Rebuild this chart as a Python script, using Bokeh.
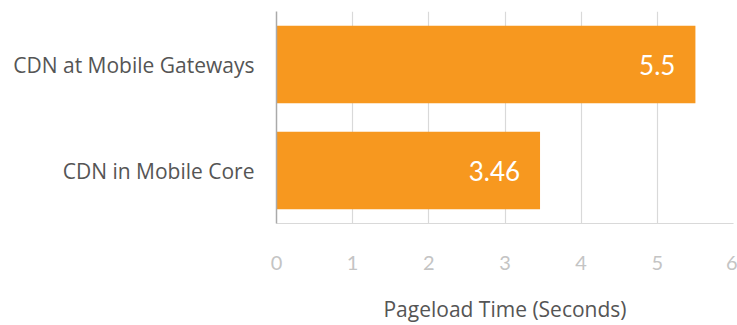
from bokeh.plotting import figure
from bokeh.models import FactorRange, Range1d, FixedTicker, ColumnDataSource
from bokeh.core.properties import value
from bokeh.embed import file_html
from bokeh.resources import INLINE

# Pageload time per CDN placement
categories = ["CDN in Mobile Core", "CDN at Mobile Gateways"]
pageload_seconds = [3.46, 5.5]
value_labels = ["3.46", "5.5"]
x_ticks = [0, 1, 2, 3, 4, 5, 6]

FONT = "Lato"
LABEL_FONT = "Open Sans"
BAR = "#F7981F"

src = ColumnDataSource(dict(cat=categories, val=pageload_seconds, lab=value_labels))

p = figure(
    width=737, height=325,
    y_range=FactorRange(factors=categories, range_padding=0),
    x_range=Range1d(0, 6),
    output_backend="svg", toolbar_location=None,
    min_border_left=276, min_border_right=4,
    min_border_top=11, min_border_bottom=101,
)
p.outline_line_color = None
p.background_fill_color = "white"
p.border_fill_color = "white"

p.hbar(y="cat", right="val", left=0, height=0.73, source=src,
       fill_color=BAR, line_color=None)

p.text(x="val", y="cat", text="lab", source=src, x_offset=-20,
       text_align="right", text_baseline="middle",
       text_color="white", text_font=value(FONT), text_font_size="26px")

# grid
p.ygrid.grid_line_color = None
p.xgrid.grid_line_color = "#d9d9d9"
p.xgrid.grid_line_width = 1.2
p.xgrid.ticker = FixedTicker(ticks=x_ticks)

# x axis
xa = p.xaxis[0]
xa.ticker = FixedTicker(ticks=x_ticks)
xa.axis_line_color = "#d9d9d9"
xa.axis_line_width = 1.2
xa.major_tick_line_color = None
xa.minor_tick_line_color = None
xa.major_label_standoff = 26
xa.major_label_text_font = FONT
xa.major_label_text_font_size = "20px"
xa.major_label_text_color = "#c4c4c4"
xa.axis_label = "Pageload Time (Seconds)"
xa.axis_label_standoff = 22
xa.axis_label_text_font = LABEL_FONT
xa.axis_label_text_font_style = "normal"
xa.axis_label_text_font_size = "21px"
xa.axis_label_text_color = "#555555"

# y axis
ya = p.yaxis[0]
ya.axis_line_color = "#aaaaaa"
ya.axis_line_width = 1.5
ya.major_tick_line_color = None
ya.minor_tick_line_color = None
ya.major_label_standoff = 16
ya.major_label_text_font = LABEL_FONT
ya.major_label_text_font_size = "21px"
ya.major_label_text_color = "#555555"

open("out.html", "w").write(file_html(p, INLINE))
